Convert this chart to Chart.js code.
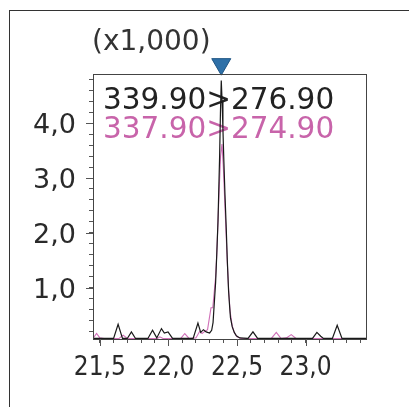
<!DOCTYPE html>
<html>
<head>
<meta charset="utf-8">
<script src="https://cdn.jsdelivr.net/npm/chart.js@4"></script>
<style>
html, body { margin: 0; padding: 0; background: #fff; }
#wrap { position: relative; width: 409px; height: 407px; overflow: hidden; }
#cadre { position: absolute; left: 9px; top: 10px; width: 450px; height: 450px; border: 1px solid #333; }
#grafico { position: absolute; left: 0; top: 0; }
</style>
</head>
<body>
<div id="wrap">
  <div id="cadre"></div>
  <canvas id="grafico" width="409" height="407"></canvas>
</div>
<script>
const tempoPreto = [21.45, 21.6, 21.633, 21.665, 21.70, 21.73, 21.76, 21.85, 21.884, 21.915, 21.949, 21.97, 21.997, 22.03,
  22.18, 22.215, 22.235, 22.255, 22.275, 22.30, 22.315, 22.325, 22.335, 22.344, 22.352, 22.361, 22.367, 22.373, 22.379,
  22.385, 22.391, 22.397, 22.404, 22.412, 22.421, 22.429, 22.438, 22.446, 22.452, 22.465, 22.48, 22.495, 22.52,
  22.58, 22.616, 22.65, 23.05, 23.082, 23.11, 23.13, 23.195, 23.23, 23.265, 23.44]
const sinalPreto = [0.07, 0.07, 0.33, 0.07, 0.07, 0.19, 0.07, 0.07, 0.22, 0.08, 0.25, 0.17, 0.19, 0.07,
  0.07, 0.35, 0.18, 0.23, 0.19, 0.17, 0.22, 0.36, 0.75, 1.1, 1.6, 2.2, 2.8, 3.4, 4.2,
  4.78, 4.4, 3.9, 3.3, 2.7, 2.1, 1.5, 0.95, 0.65, 0.45, 0.28, 0.18, 0.12, 0.08,
  0.07, 0.19, 0.07, 0.07, 0.18, 0.11, 0.07, 0.07, 0.31, 0.07, 0.07]

const tempoRosa = [21.45, 21.476, 21.50, 21.53, 21.64, 21.67, 21.70, 21.92, 21.937, 21.96, 22.09, 22.119, 22.15,
  22.20, 22.228, 22.245, 22.265, 22.285, 22.31, 22.323, 22.333, 22.344, 22.352, 22.361, 22.37, 22.38, 22.39,
  22.40, 22.41, 22.42, 22.43, 22.44, 22.45, 22.465, 22.48, 22.50, 22.53, 22.75, 22.786, 22.82, 22.86, 22.895,
  22.93, 23.44]
const sinalRosa = [0.07, 0.16, 0.08, 0.07, 0.07, 0.13, 0.07, 0.07, 0.10, 0.07, 0.07, 0.16, 0.07,
  0.08, 0.2, 0.16, 0.2, 0.23, 0.63, 0.63, 0.9, 1.2, 1.6, 2.2, 2.8, 3.4, 3.62,
  3.2, 2.6, 2.0, 1.4, 0.9, 0.55, 0.3, 0.18, 0.1, 0.07, 0.07, 0.18, 0.07, 0.08, 0.14,
  0.07, 0.07]

const tempoMarcador = [22.385]
const nivelMarcador = [5.08]

const transicoes = ['339.90>276.90', '337.90>274.90']
const coresTransicao = ['#222222', '#c864aa']
const escala = '(x1,000)'

const marcasX = [21.5, 22.0, 22.5, 23.0]
const marcasY = [1, 2, 3, 4]

function pontos(xs, ys) {
  return xs.map((t, i) => ({ x: t, y: ys[i] }))
}

const anotacoes = {
  id: 'anotacoes',
  beforeDatasetsDraw(chart) {
    const { ctx, chartArea: a } = chart
    ctx.save()
    ctx.font = '29.5px "DejaVu Sans"'
    ctx.textBaseline = 'alphabetic'
    transicoes.forEach((t, i) => {
      ctx.fillStyle = coresTransicao[i]
      ctx.fillText(t, a.left + 10, a.top + 35 + i * 29)
    })
    ctx.restore()
  },
  afterDraw(chart) {
    const { ctx, chartArea: a, scales: { x, y } } = chart
    ctx.save()
    ctx.strokeStyle = '#444'
    ctx.lineWidth = 1
    ctx.strokeRect(a.left + 0.5, a.top + 0.5, a.right - a.left, a.bottom - a.top)
    ctx.strokeStyle = '#555'
    ctx.beginPath()
    marcasX.forEach(v => {
      const px = Math.round(x.getPixelForValue(v)) + 0.5
      ctx.moveTo(px, a.bottom)
      ctx.lineTo(px, a.bottom + 7)
    })
    marcasY.forEach(v => {
      const py = Math.round(y.getPixelForValue(v)) + 0.5
      ctx.moveTo(a.left - 7, py)
      ctx.lineTo(a.left, py)
    })
    ctx.stroke()
    ctx.font = '28px "DejaVu Sans"'
    ctx.fillStyle = '#333'
    ctx.fillText(escala, 92, 50)
    ctx.restore()
  }
}

const grafico = new Chart(document.getElementById('grafico'), {
  type: 'line',
  data: {
    datasets: [{
      label: 'marcador',
      type: 'scatter',
      data: pontos(tempoMarcador, nivelMarcador),
      pointStyle: 'triangle',
      rotation: 180,
      radius: 11,
      backgroundColor: '#2e70a8',
      borderColor: '#1f5584',
      borderWidth: 1,
      clip: false,
      order: 0
    }, {
      label: transicoes[0],
      data: pontos(tempoPreto, sinalPreto),
      borderColor: '#1a1a1a',
      borderWidth: 1.2,
      pointRadius: 0,
      tension: 0,
      order: 1
    }, {
      label: transicoes[1],
      data: pontos(tempoRosa, sinalRosa),
      borderColor: '#d070b8',
      borderWidth: 1.1,
      pointRadius: 0,
      tension: 0,
      order: 2
    }]
  },
  options: {
    responsive: false,
    animation: false,
    events: [],
    layout: { padding: { top: 74, right: 43, left: 0, bottom: 0 } },
    plugins: { legend: { display: false }, tooltip: { enabled: false } },
    scales: {
      x: {
        type: 'linear',
        min: 21.45,
        max: 23.44,
        afterFit: s => { s.height = 68 },
        border: { display: false },
        grid: { drawOnChartArea: false, tickLength: 4, tickColor: '#555' },
        ticks: {
          stepSize: 0.1,
          includeBounds: false,
          autoSkip: false,
          maxRotation: 0,
          padding: 10,
          color: '#2a2a2a',
          font: { family: "'DejaVu Sans Condensed', sans-serif", size: 26 },
          callback: v => Math.abs(v * 2 - Math.round(v * 2)) < 1e-6 ? v.toFixed(1).replace('.', ',') : ''
        }
      },
      y: {
        min: 0.06,
        max: 4.90,
        afterFit: s => { s.width = 93 },
        border: { display: false },
        grid: { drawOnChartArea: false, tickLength: 4, tickColor: '#555' },
        ticks: {
          stepSize: 0.2,
          includeBounds: false,
          autoSkip: false,
          padding: 13,
          labelOffset: 3,
          color: '#2a2a2a',
          font: { family: '"DejaVu Sans"', size: 27 },
          callback: v => (Math.abs(v - Math.round(v)) < 1e-6 && v >= 1) ? v.toFixed(1).replace('.', ',') : ''
        }
      }
    }
  },
  plugins: [anotacoes]
})
</script>
</body>
</html>
